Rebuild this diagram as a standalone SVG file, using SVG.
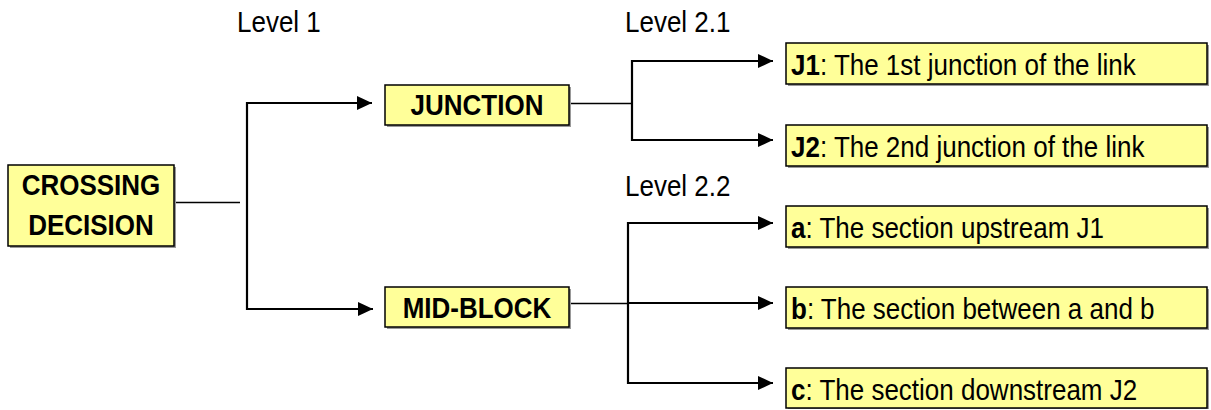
<svg xmlns="http://www.w3.org/2000/svg" width="1211" height="410" viewBox="0 0 1211 410">
  <style>
    .box { fill: #FFFF99; stroke: #000; stroke-width: 1.5; }
    .shadow { fill: #999; }
    .t { font-family: "Liberation Sans", Arial, sans-serif; font-size: 26px; fill: #000; }
    .b { font-weight: bold; }
    .thin { stroke: #000; stroke-width: 1.5; fill: none; }
    .thick { stroke: #000; stroke-width: 2.2; fill: none; }
    .arr { stroke: #000; stroke-width: 2.2; fill: none; marker-end: url(#ah); }
  </style>
  <defs>
    <marker id="ah" markerUnits="userSpaceOnUse" markerWidth="16" markerHeight="14" refX="15" refY="7" orient="auto">
      <path d="M0,0 L15,7 L0,14 Z" fill="#000"/>
    </marker>
  </defs>

  <rect width="1211" height="410" fill="#fff"/>

  <g id="labels">
    <text class="t" transform="translate(237,32) scale(1,1.15)">Level 1</text>
    <text class="t" transform="translate(625,32) scale(1,1.15)">Level 2.1</text>
    <text class="t" transform="translate(625,196) scale(1,1.15)">Level 2.2</text>
  </g>

  <g id="connectors">
    <line class="thin" x1="174" y1="202.5" x2="240" y2="202.5"/>
    <line class="thick" x1="247" y1="102" x2="247" y2="310"/>
    <line class="arr" x1="246" y1="103" x2="372" y2="103"/>
    <line class="arr" x1="246" y1="309" x2="373" y2="309"/>

    <line class="thin" x1="569" y1="103.5" x2="632" y2="103.5"/>
    <line class="thick" x1="632" y1="60" x2="632" y2="141"/>
    <line class="arr" x1="631" y1="61" x2="773" y2="61"/>
    <line class="arr" x1="631" y1="140" x2="773" y2="140"/>

    <line class="thin" x1="569" y1="303.5" x2="628" y2="303.5"/>
    <line class="thick" x1="628" y1="222" x2="628" y2="384"/>
    <line class="arr" x1="627" y1="223" x2="773" y2="223"/>
    <line class="arr" x1="628" y1="303" x2="773" y2="303"/>
    <line class="arr" x1="627" y1="383" x2="773" y2="383"/>
  </g>

  <g id="crossing">
    <rect class="shadow" x="10" y="167" width="166" height="81"/>
    <rect class="box" x="8" y="165" width="166" height="81"/>
    <text class="t b" text-anchor="middle" transform="translate(91,195) scale(1,1.15)">CROSSING</text>
    <text class="t b" text-anchor="middle" transform="translate(91,235) scale(1,1.15)">DECISION</text>
  </g>

  <g id="junction">
    <rect class="shadow" x="387" y="87" width="184" height="40"/>
    <rect class="box" x="385" y="85" width="184" height="40"/>
    <text class="t b" text-anchor="middle" transform="translate(477,115) scale(1,1.15)">JUNCTION</text>
  </g>

  <g id="midblock">
    <rect class="shadow" x="387" y="289" width="184" height="40"/>
    <rect class="box" x="385" y="287" width="184" height="40"/>
    <text class="t b" text-anchor="middle" transform="translate(477,318) scale(1,1.15)">MID-BLOCK</text>
  </g>

  <g id="j1">
    <rect class="shadow" x="788" y="45" width="421" height="41"/>
    <rect class="box" x="786" y="43" width="421" height="41"/>
    <text class="t" transform="translate(791,75) scale(1,1.15)"><tspan class="b">J1</tspan>: The 1st junction of the link</text>
  </g>

  <g id="j2">
    <rect class="shadow" x="788" y="127" width="421" height="41"/>
    <rect class="box" x="786" y="125" width="421" height="41"/>
    <text class="t" transform="translate(791,157) scale(1,1.15)"><tspan class="b">J2</tspan>: The 2nd junction of the link</text>
  </g>

  <g id="sec-a">
    <rect class="shadow" x="788" y="208" width="421" height="41"/>
    <rect class="box" x="786" y="206" width="421" height="41"/>
    <text class="t" transform="translate(791,238) scale(1,1.15)"><tspan class="b">a</tspan>: The section upstream J1</text>
  </g>

  <g id="sec-b">
    <rect class="shadow" x="788" y="289" width="421" height="41"/>
    <rect class="box" x="786" y="287" width="421" height="41"/>
    <text class="t" transform="translate(791,319) scale(1,1.15)"><tspan class="b">b</tspan>: The section between a and b</text>
  </g>

  <g id="sec-c">
    <rect class="shadow" x="788" y="370" width="421" height="39"/>
    <rect class="box" x="786" y="368" width="421" height="40"/>
    <text class="t" transform="translate(791,400) scale(1,1.15)"><tspan class="b">c</tspan>: The section downstream J2</text>
  </g>
</svg>
